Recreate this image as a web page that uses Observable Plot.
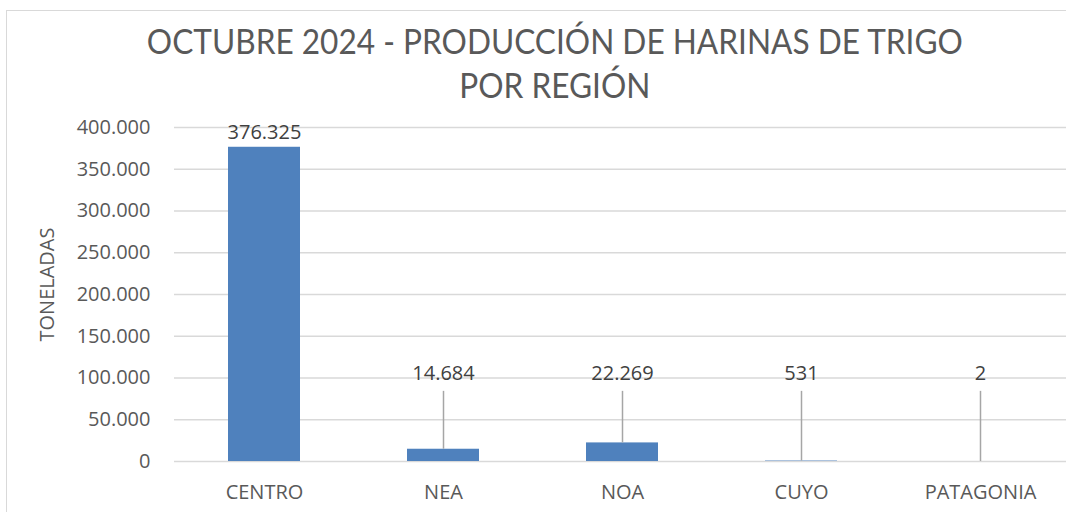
<!DOCTYPE html>
<html>
<head>
<meta charset="utf-8">
<script src="https://cdn.jsdelivr.net/npm/d3@7"></script>
<script src="https://cdn.jsdelivr.net/npm/@observablehq/plot@0.6"></script>
<style>
  html, body { margin: 0; padding: 0; background: #ffffff; }
  #page { position: relative; width: 1066px; height: 512px; overflow: hidden; font-family: "Open Sans", sans-serif; color: #595959; }
  #frame { position: absolute; left: 6px; top: 10px; width: 1080px; height: 540px; border: 1px solid #d9d9d9; box-sizing: border-box; pointer-events: none; }
  .title { position: absolute; left: 22px; width: 1066px; text-align: center; font-family: Lato, "Open Sans", sans-serif; font-size: 34px; line-height: 34px; white-space: nowrap; font-weight: 400; }
  .title span { display: inline-block; transform-origin: center center; }
  #head { position: relative; height: 110px; }
</style>
</head>
<body>
<div id="page">
  <div id="head">
    <div class="title" id="t1" style="top:24px"><span>OCTUBRE 2024 - PRODUCCIÓN DE HARINAS DE TRIGO</span></div>
    <div class="title" id="t2" style="top:68px"><span>POR REGIÓN</span></div>
  </div>
  <div id="chart"></div>
  <div id="frame"></div>
</div>
<script>
// ---- data ----
const regions = ["CENTRO", "NEA", "NOA", "CUYO", "PATAGONIA"];
const toneladas = [376325, 14684, 22269, 531, 2];
const yTicks = [0, 50000, 100000, 150000, 200000, 250000, 300000, 350000, 400000];
const yAxisTitle = "TONELADAS";

const fmt = d3.formatLocale({decimal: ",", thousands: ".", grouping: [3], currency: ["$", ""]}).format(",d");
const data = regions.map((r, i) => ({region: r, value: toneladas[i]}));

// labels: big bars get label above bar, small ones a callout with leader line
const calloutThreshold = 100000;
const calloutLabelY = 105000;
const calloutLineTop = 84000;
const big = data.filter(d => d.value >= calloutThreshold);
const small = data.filter(d => d.value < calloutThreshold);

// title scaling (narrow, Calibri-like)
const t1 = document.querySelector("#t1 span");
const t2 = document.querySelector("#t2 span");
const targetW = 816;
const s = targetW / t1.getBoundingClientRect().width;
t1.style.transform = `scaleX(${s})`;
t2.style.transform = `scaleX(${s})`;

const chart = Plot.plot({
  width: 1066,
  height: 402,
  marginTop: 17,
  marginBottom: 51,
  marginLeft: 174,
  marginRight: 0,
  style: {fontFamily: "'Open Sans', sans-serif", fontSize: "20px", color: "#595959", background: "transparent", overflow: "visible"},
  x: {domain: regions, range: [174, 1069], paddingInner: 0.6, paddingOuter: 0.3, label: null},
  y: {domain: [0, 400000], label: null},
  marks: [
    Plot.ruleY(yTicks, {stroke: "#d9d9d9", strokeWidth: 1.5}),
    Plot.barY(data, {x: "region", y: "value", fill: "#4f81bd"}),
    Plot.ruleX(small, {x: "region", y1: "value", y2: () => calloutLineTop, stroke: "#a6a6a6", strokeWidth: 1.5}),
    Plot.text(big, {x: "region", y: "value", text: d => fmt(d.value), lineAnchor: "middle", dy: -15, fontSize: 20, fill: "#404040"}),
    Plot.text(small, {x: "region", y: () => calloutLabelY, text: d => fmt(d.value), lineAnchor: "middle", fontSize: 20, fill: "#404040"}),
    Plot.axisY({ticks: yTicks, tickSize: 0, tickPadding: 24, tickFormat: fmt, fontSize: 20, label: null}),
    Plot.axisX({tickSize: 0, tickPadding: 23, label: null, fontSize: 20}),
    Plot.text([yAxisTitle], {frameAnchor: "left", textAnchor: "middle", rotate: -90, dx: -127, dy: -10, fontSize: 20, text: d => d})
  ]
});
document.getElementById("chart").appendChild(chart);
</script>
</body>
</html>
